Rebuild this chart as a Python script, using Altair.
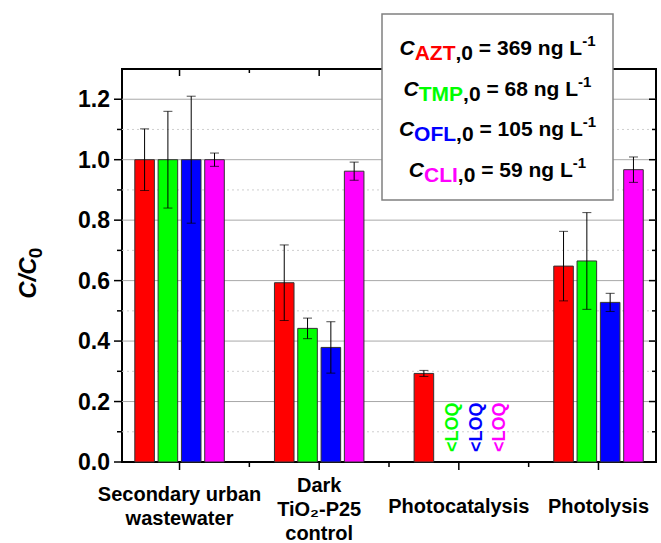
import altair as alt
import pandas as pd

# ---------------- data ----------------
conditions = ["Secondary urban|wastewater", "Dark|TiO₂-P25|control", "Photocatalysis", "Photolysis"]
compounds = ["AZT", "TMP", "OFL", "CLI"]
colors = ["#FF0000", "#00FF00", "#0000FF", "#FF00FF"]
initial_conc = ["369", "68", "105", "59"]

azt = [1.0, 0.593, 0.293, 0.648]
tmp = [1.0, 0.442, None, 0.665]
ofl = [1.0, 0.379, None, 0.528]
cli = [1.0, 0.962, None, 0.967]

azt_err = [0.102, 0.125, 0.010, 0.115]
tmp_err = [0.160, 0.034, None, 0.160]
ofl_err = [0.210, 0.085, None, 0.030]
cli_err = [0.022, 0.030, None, 0.042]

y_major = [0.0, 0.2, 0.4, 0.6, 0.8, 1.0, 1.2]
y_minor = [0.1, 0.3, 0.5, 0.7, 0.9, 1.1]
y_title_main, y_title_sub = "C/C", "0"

values = [azt, tmp, ofl, cli]
errors = [azt_err, tmp_err, ofl_err, cli_err]
rows = []
for ci, comp in enumerate(compounds):
    for j, cond in enumerate(conditions):
        rows.append({"condition": cond, "compound": comp,
                     "value": values[ci][j], "err": errors[ci][j],
                     "loq": values[ci][j] is None})
df = pd.DataFrame(rows)
cond_df = pd.DataFrame({"condition": conditions})
cond_inner_df = pd.DataFrame({"condition": conditions[1:]})
ymaj_df = pd.DataFrame({"v": y_major})
ymin_df = pd.DataFrame({"v": y_minor})
dummy = pd.DataFrame({"a": [0]})

# ---------------- layout ----------------
W_PLOT, H_PLOT = 534, 393
PAD = {"left": 122, "top": 69, "right": 5, "bottom": 81}

y_scale = alt.Scale(domain=[0, 1.3], nice=False, zero=True)
x_scale = alt.Scale(domain=conditions, range=[-12.3, 546.3], paddingInner=0, paddingOuter=0)

x_plain = alt.X("condition:N", sort=conditions, scale=x_scale, axis=None)
xo = alt.XOffset("compound:N", sort=compounds,
                 scale=alt.Scale(domain=compounds, range=[25.1, 114.6], paddingInner=0.16, paddingOuter=0))
col = alt.Color("compound:N", scale=alt.Scale(domain=compounds, range=colors), legend=None)


def yv(field):
    return alt.Y(field, scale=y_scale, axis=None)


# grid lines
major_grid = alt.Chart(ymaj_df).transform_filter("datum.v > 0").mark_rule(
    color="#a8a8a8", strokeWidth=1).encode(y=yv("v:Q"), x=alt.value(0), x2=alt.value(W_PLOT))
minor_grid = alt.Chart(ymin_df).mark_rule(color="#cfcfcf", strokeDash=[2, 3], strokeWidth=1).encode(
    y=yv("v:Q"), x=alt.value(0), x2=alt.value(W_PLOT))

base = alt.Chart(df)

bars = base.transform_filter("isValid(datum.value)").mark_bar(
    stroke="#333333", strokeWidth=1
).encode(x=x_plain, xOffset=xo, y=yv("value:Q"), color=col)

err_base = base.transform_filter("isValid(datum.err)").transform_calculate(
    lo="datum.value - datum.err", hi="datum.value + datum.err")

err_rule = err_base.mark_rule(color="black", strokeWidth=1).encode(
    x=x_plain, xOffset=xo, y=yv("lo:Q"), y2="hi:Q")
cap_hi = err_base.mark_tick(orient="horizontal", color="black", thickness=1, size=9).encode(
    x=x_plain, xOffset=xo, y=yv("hi:Q"))
cap_lo = err_base.mark_tick(orient="horizontal", color="black", thickness=1, size=9).encode(
    x=x_plain, xOffset=xo, y=yv("lo:Q"))

loq = base.transform_filter("datum.loq").mark_text(
    text="<LOQ", angle=270, align="left", baseline="middle", dx=10, dy=6,
    fontSize=18, fontWeight="bold"
).encode(x=x_plain, xOffset=xo, y=alt.YDatum(0, scale=y_scale, axis=None), color=col)

# frame ticks
x_center = alt.X("condition:N", sort=conditions, scale=x_scale, axis=None, bandPosition=0.5)
x_edge = alt.X("condition:N", sort=conditions, scale=x_scale, axis=None, bandPosition=0)
tick_style = dict(color="black", strokeWidth=1.5)

top_major = alt.Chart(cond_df).mark_rule(**tick_style).encode(
    x=x_center, y=alt.value(0), y2=alt.value(7))
top_minor = alt.Chart(cond_inner_df).mark_rule(**tick_style).encode(
    x=x_edge, y=alt.value(0), y2=alt.value(4))
bot_major = alt.Chart(cond_df).mark_rule(**tick_style).encode(
    x=x_center, y=alt.value(H_PLOT), y2=alt.value(H_PLOT + 8))
bot_minor = alt.Chart(cond_inner_df).mark_rule(**tick_style).encode(
    x=x_edge, y=alt.value(H_PLOT), y2=alt.value(H_PLOT + 5))
right_major = alt.Chart(ymaj_df).transform_filter("datum.v > 0").mark_rule(**tick_style).encode(
    y=yv("v:Q"), x=alt.value(W_PLOT - 7), x2=alt.value(W_PLOT))
right_minor = alt.Chart(ymin_df).mark_rule(**tick_style).encode(
    y=yv("v:Q"), x=alt.value(W_PLOT - 4), x2=alt.value(W_PLOT))
left_major = alt.Chart(ymaj_df).mark_rule(**tick_style).encode(
    y=yv("v:Q"), x=alt.value(-8), x2=alt.value(0))
left_minor = alt.Chart(ymin_df).mark_rule(**tick_style).encode(
    y=yv("v:Q"), x=alt.value(-5), x2=alt.value(0))

# axis labels and title drawn as text
y_labels = alt.Chart(ymaj_df).transform_calculate(lab="format(datum.v, '.1f')").mark_text(
    align="right", baseline="middle", fontSize=23, fontWeight="bold", color="black", dy=1
).encode(y=yv("v:Q"), x=alt.value(-12), text="lab:N")

x_labels = alt.Chart(cond_df).transform_calculate(
    nl="length(split(datum.condition, '|'))",
).transform_calculate(
    ly=f"{H_PLOT + 45} - (datum.nl - 1) * (datum.nl > 2 ? 10.5 : 12)"
).mark_text(
    align="center", baseline="middle", fontSize=20, fontWeight="bold", color="black",
    lineBreak="|", lineHeight=24
).encode(x=x_center, y=alt.Y("ly:Q", scale=None, axis=None), text="condition:N")

y_title_a = alt.Chart(dummy).mark_text(
    text=y_title_main, angle=270, align="center", baseline="middle", fontSize=24,
    fontWeight="bold", fontStyle="italic", color="black"
).encode(x=alt.value(-93), y=alt.value(209))
y_title_b = alt.Chart(dummy).mark_text(
    text=y_title_sub, angle=270, align="center", baseline="middle", fontSize=19,
    fontWeight="bold", color="black"
).encode(x=alt.value(-86), y=alt.value(184))

# ---------------- annotation box ----------------
box = alt.Chart(dummy).mark_rect(
    fill="white", stroke="#808080", strokeWidth=1.5
).encode(x=alt.value(260), x2=alt.value(491), y=alt.value(-55), y2=alt.value(131))

CW = {' ': 278, ',': 278, '-': 333, '=': 584, 'A': 722, 'C': 722, 'F': 611, 'I': 278,
      'L': 611, 'M': 833, 'O': 778, 'P': 667, 'T': 611, 'Z': 611, 'g': 611, 'n': 611}
for d in "0123456789":
    CW[d] = 556


def tw(s, fs):
    return sum(CW[c] for c in s) / 1000.0 * fs


FS, FS_SUP = 21, 15
center_x = 375.5
baselines = [-14, 26.5, 67, 107.5]
legend_layers = []
for i, comp in enumerate(compounds):
    parts = [("C", FS, 0, "black", "italic"), (comp, FS, 5, colors[i], "normal"),
             (",0", FS, 5, "black", "normal"), (" = " + initial_conc[i] + " ng L", FS, 0, "black", "normal"),
             ("-1", FS_SUP, -9, "black", "normal")]
    total = sum(tw(p[0], p[1]) for p in parts)
    x = center_x - total / 2
    for t, fs, dyv, c, st in parts:
        lead = len(t) - len(t.lstrip(" "))
        legend_layers.append(
            alt.Chart(dummy).mark_text(
                text=t.lstrip(" "), align="left", baseline="alphabetic", fontSize=fs,
                fontWeight="bold", fontStyle=st, color=c
            ).encode(x=alt.value(x + tw(" " * lead, fs)), y=alt.value(baselines[i] + dyv))
        )
        x += tw(t, fs)

chart = alt.layer(
    minor_grid, major_grid, bars, err_rule, cap_hi, cap_lo, loq,
    top_major, top_minor, bot_major, bot_minor, right_major, right_minor, left_major, left_minor,
    y_labels, x_labels, y_title_a, y_title_b,
    box, *legend_layers
).properties(
    width=W_PLOT, height=H_PLOT,
    autosize=alt.AutoSizeParams(type="none"),
    padding=PAD,
).configure(font="Liberation Sans", background="white").configure_view(
    stroke="black", strokeWidth=2
)

chart.save("out.html", embed_options={"renderer": "svg", "actions": False})
